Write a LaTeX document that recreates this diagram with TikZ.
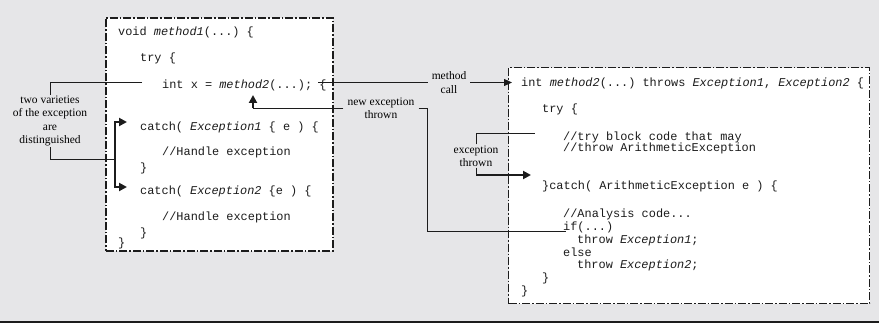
\documentclass[tikz,border=0pt]{standalone}
\usepackage{fontspec}
\setmainfont{Liberation Serif}
\setmonofont{Liberation Mono}
\usetikzlibrary{arrows.meta,positioning}
\definecolor{paper}{HTML}{E6E6E8}
\definecolor{ink}{HTML}{1C1C1C}

\begin{document}
\begin{tikzpicture}[x=1pt,y=-1pt,
frame/.style={draw=ink, fill=white, dash pattern=on 8pt off 2pt on 1.5pt off 2pt, anchor=north west, inner sep=0pt},
code/.style={anchor=base west, inner sep=0pt, text=ink, font=\ttfamily\fontsize{11.9}{12.5}\selectfont},
note/.style={align=center, inner xsep=4pt, inner ysep=1pt, font=\fontsize{11.5}{13.3}\selectfont},
link/.style={draw=ink, line width=0.8pt},
push/.style={draw=ink, line width=2pt, -{Triangle[length=8pt,width=8pt]}},
pull/.style={draw=ink, line width=0.8pt, -{Triangle[length=8pt,width=7pt]}}
]
\fill[paper] (0,0) rectangle (879,323);
\useasboundingbox (0,0) rectangle (879,323);
\draw[ink, line width=2pt] (0,322) -- (879,322);

\node[frame, line width=1.8pt, minimum width=227pt, minimum height=233pt] (caller) at (105,17) {};
\node[frame, line width=1.1pt, minimum width=361pt, minimum height=236pt] (callee) at (508,67) {};

\node[code] (m1head) at (118,36) {void \textit{method1}(...) \{};
\node[code] (tryA) at (140,62) {try \{};
\node[code] (callline) at (162,89) {int x = \textit{method2}(...); \{};
\node[code] (catchA) at (140,131) {catch( \textit{Exception1} \{ e ) \{};
\node[code] (handleA) at (162,156) {//Handle exception};
\node[code] (closeA) at (140,172) {\}};
\node[code] (catchB) at (140,195) {catch( \textit{Exception2} \{e ) \{};
\node[code] (handleB) at (162,221) {//Handle exception};
\node[code] (closeB) at (140,237) {\}};
\node[code] (m1end) at (118,247) {\}};

\node[code] (m2head) at (521,86.5) {int \textit{method2}(...) throws \textit{Exception1}, \textit{Exception2} \{};
\node[code] (tryB) at (542,113) {try \{};
\node[code] (riskA) at (563,140.5) {//try block code that may};
\node[code] (riskB) at (563,152) {//throw ArithmeticException};
\node[code] (catchC) at (542,190) {\}catch( ArithmeticException e ) \{};
\node[code] (analyse) at (563,218) {//Analysis code...};
\node[code] (ifline) at (563,231) {if(...)};
\node[code] (throwA) at (577,244) {throw \textit{Exception1};};
\node[code] (elseline) at (563,256.5) {else};
\node[code] (throwB) at (577,269) {throw \textit{Exception2};};
\node[code] (closeC) at (542,282) {\}};
\node[code] (m2end) at (521,294.5) {\}};

\node[note] (varieties) at (50,121) {two varieties\\of the exception\\are\\distinguished};
\node[note] (callnote) at (449,82.5) {method\\call};
\node[note] (rethrow) at (381,108.5) {new exception\\thrown};
\node[note] (trynote) at (476,156) {exception\\thrown};

\coordinate (splitin) at (142,82);
\coordinate (fork) at (115,159);
\coordinate (toA) at (127,122);
\coordinate (toB) at (127,187);
\coordinate (callout) at (318,82.5);
\coordinate (callin) at (512,82.5);
\coordinate (backin) at (253,95);
\coordinate (ifmark) at (566,231);
\coordinate (trymark) at (535,133);
\coordinate (catchmark) at (531,175);

\draw[link] (splitin) -| (varieties.north);
\draw[link] (varieties.south) |- (fork);
\draw[push] (fork) |- (toA);
\draw[push] (fork) |- (toB);
\draw[link] (callout) -- (callnote.west);
\draw[pull] (callnote.east) -- (callin);
\draw[link] (rethrow.west) -- (rethrow.west -| backin);
\draw[push] (rethrow.west -| backin) -- (backin);
\draw[link] (rethrow.east) -- ++(9,0) |- (ifmark);
\draw[link] (trynote.north) |- (trymark);
\draw[link] (trynote.south) -- (trynote.south |- catchmark);
\draw[push] (trynote.south |- catchmark) -- (catchmark);
\end{tikzpicture}
\end{document}
